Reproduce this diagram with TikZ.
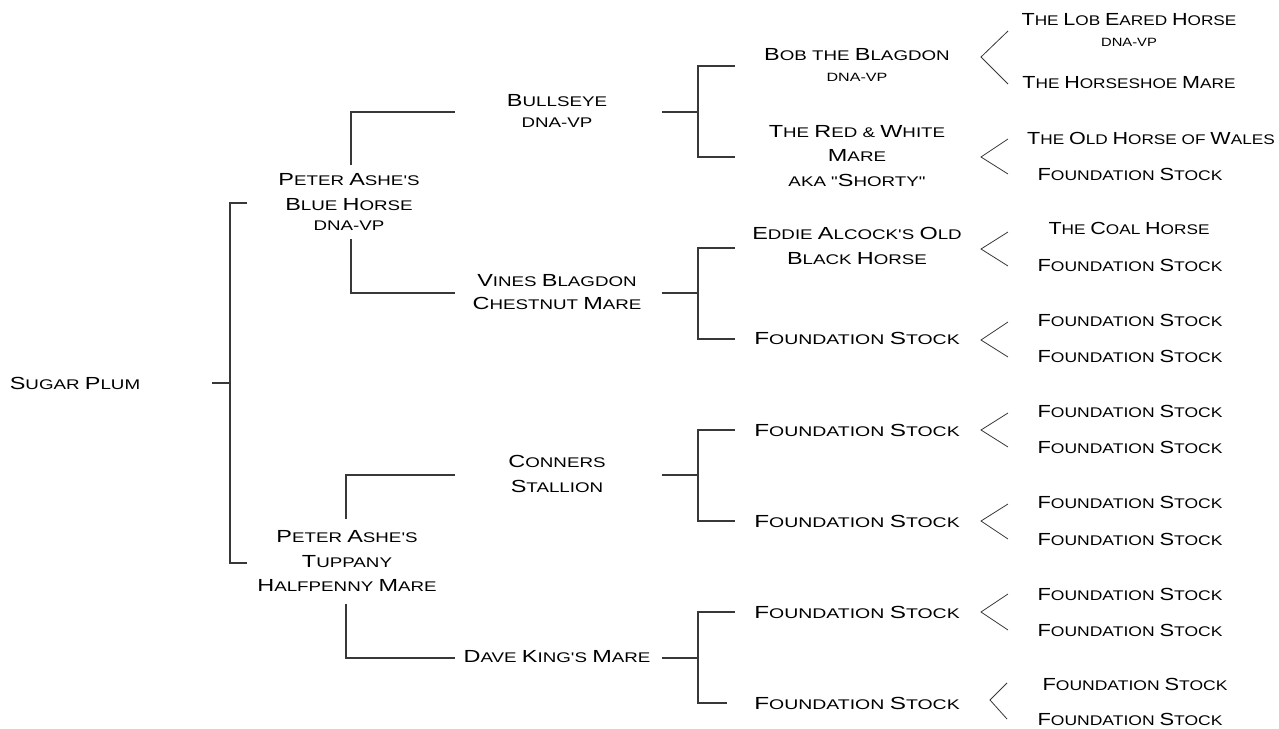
\documentclass[tikz,border=0pt]{standalone}
\usepackage{fontspec}
\newfontfamily\cpfont[FakeStretch=1.34]{Liberation Sans}
\newfontfamily\cpwide[FakeStretch=1.39]{Liberation Sans}
\newfontfamily\cpnarrow[FakeStretch=1.23]{Liberation Sans}
\newfontfamily\cpfour[FakeStretch=1.25]{Liberation Sans}
\newcommand\C[1]{{\fontsize{17.5pt}{25pt}\selectfont #1}}
\newcommand\Sm[1]{{\fontsize{12pt}{25pt}\selectfont #1}}
\begin{document}
\begin{tikzpicture}[x=1pt,y=-1pt,
  lbl/.style={font=\cpfont\fontsize{14pt}{24.5pt}\selectfont, align=center, inner sep=0pt, text=black},
  fs/.style={lbl, font=\cpwide\fontsize{14pt}{24.5pt}\selectfont},
  nw/.style={lbl, font=\cpnarrow\fontsize{14pt}{24.5pt}\selectfont},
  fsfour/.style={lbl, font=\cpfour\fontsize{14pt}{24.5pt}\selectfont},
  lk/.style={draw=black!78, line width=1.1pt},
  chev/.style={draw=black!78, line width=0.8pt}]
\useasboundingbox[fill=white] (0,0) rectangle (1279,728);

% generation 0
\node[lbl] (sp) at (75,383) {\C{S}UGAR \C{P}LUM};
% generation 1
\node[lbl] (pb) at (349,202) {\C{P}ETER \C{A}SHE'S\\\C{B}LUE \C{H}ORSE\\[-4pt]DNA-VP};
\node[lbl] (pt) at (347,561) {\C{P}ETER \C{A}SHE'S\\\C{T}UPPANY\\\C{H}ALFPENNY \C{M}ARE};
% generation 2
\node[lbl] (bu) at (557,111) {\C{B}ULLSEYE\\[-4pt]DNA-VP};
\node[lbl] (vb) at (557,292) {\C{V}INES \C{B}LAGDON\\[-2pt]\C{C}HESTNUT \C{M}ARE};
\node[lbl] (cs) at (557,474) {\C{C}ONNERS\\\C{S}TALLION};
\node[lbl] (dk) at (557,657) {\C{D}AVE \C{K}ING'S \C{M}ARE};
% generation 3
\node[lbl] (bb) at (857,65) {\C{B}OB THE \C{B}LAGDON\\[-3pt]\Sm{DNA-VP}};
\node[lbl] (rw) at (857,156) {\C{T}HE \C{R}ED \& \C{W}HITE\\\C{M}ARE\\AKA "\C{S}HORTY"};
\node[lbl] (ea) at (857,246) {\C{E}DDIE \C{A}LCOCK'S \C{O}LD\\\C{B}LACK \C{H}ORSE};
\node[fs] (f3a) at (857,338) {\C{F}OUNDATION \C{S}TOCK};
\node[fs] (f3b) at (857,430) {\C{F}OUNDATION \C{S}TOCK};
\node[fs] (f3c) at (857,521) {\C{F}OUNDATION \C{S}TOCK};
\node[fs] (f3d) at (857,612) {\C{F}OUNDATION \C{S}TOCK};
\node[fs] (f3e) at (857,703) {\C{F}OUNDATION \C{S}TOCK};
% generation 4
\node[nw] (g1) at (1129,30) {\C{T}HE \C{L}OB \C{E}ARED \C{H}ORSE\\[-3pt]\Sm{DNA-VP}};
\node[nw] (g2) at (1129,83) {\C{T}HE \C{H}ORSESHOE \C{M}ARE};
\node[nw] (g3) at (1151,138) {\C{T}HE \C{O}LD \C{H}ORSE OF \C{W}ALES};
\node[fsfour] (g4) at (1130,174) {\C{F}OUNDATION \C{S}TOCK};
\node[nw] (g5) at (1129,228) {\C{T}HE \C{C}OAL \C{H}ORSE};
\node[fsfour] (g6) at (1130,265) {\C{F}OUNDATION \C{S}TOCK};
\node[fsfour] (g7) at (1130,320) {\C{F}OUNDATION \C{S}TOCK};
\node[fsfour] (g8) at (1130,356) {\C{F}OUNDATION \C{S}TOCK};
\node[fsfour] (g9) at (1130,411) {\C{F}OUNDATION \C{S}TOCK};
\node[fsfour] (g10) at (1130,447) {\C{F}OUNDATION \C{S}TOCK};
\node[fsfour] (g11) at (1130,502) {\C{F}OUNDATION \C{S}TOCK};
\node[fsfour] (g12) at (1130,539) {\C{F}OUNDATION \C{S}TOCK};
\node[fsfour] (g13) at (1130,594) {\C{F}OUNDATION \C{S}TOCK};
\node[fsfour] (g14) at (1130,630) {\C{F}OUNDATION \C{S}TOCK};
\node[fsfour] (g15) at (1135,684) {\C{F}OUNDATION \C{S}TOCK};
\node[fsfour] (g16) at (1130,719) {\C{F}OUNDATION \C{S}TOCK};

% ---- connector end points
\coordinate (s0) at (212,383); \coordinate (j0) at (230,383);
\coordinate (e0a) at (247,203); \coordinate (e0b) at (247,563);

\coordinate (pb-t) at (351,165); \coordinate (pb-b) at (351,239);
\coordinate (e1a) at (455,112); \coordinate (e1b) at (455,293);
\coordinate (pt-t) at (346,519); \coordinate (pt-b) at (346,604);
\coordinate (e1c) at (455,475); \coordinate (e1d) at (455,658);

\coordinate (bu-s) at (662,112); \coordinate (bu-j) at (698,112);
\coordinate (vb-s) at (662,293); \coordinate (vb-j) at (698,293);
\coordinate (cs-s) at (662,475); \coordinate (cs-j) at (698,475);
\coordinate (dk-s) at (662,658); \coordinate (dk-j) at (698,658);
\coordinate (e2a) at (735,66);  \coordinate (e2b) at (735,157);
\coordinate (e2c) at (735,248); \coordinate (e2d) at (735,339);
\coordinate (e2e) at (735,430); \coordinate (e2f) at (735,521);
\coordinate (e2g) at (735,612); \coordinate (e2h) at (727,703);

% chevrons
\coordinate (c1a) at (1008,31);  \coordinate (c1) at (981,57);  \coordinate (c1b) at (1008,84);
\coordinate (c2a) at (1008,139); \coordinate (c2) at (981,157); \coordinate (c2b) at (1008,174);
\coordinate (c3a) at (1008,232); \coordinate (c3) at (981,249); \coordinate (c3b) at (1008,266);
\coordinate (c4a) at (1008,322); \coordinate (c4) at (981,340); \coordinate (c4b) at (1008,357);
\coordinate (c5a) at (1008,413); \coordinate (c5) at (981,430); \coordinate (c5b) at (1008,447);
\coordinate (c6a) at (1008,504); \coordinate (c6) at (981,521); \coordinate (c6b) at (1008,539);
\coordinate (c7a) at (1008,594); \coordinate (c7) at (981,612); \coordinate (c7b) at (1008,630);
\coordinate (c8a) at (1007,683); \coordinate (c8) at (990,700); \coordinate (c8b) at (1007,719);

% ---- connectors
\draw[lk] (s0) -- (j0);
\draw[lk] (e0a) -| (j0) |- (e0b);

\draw[lk] (pb-t) |- (e1a);
\draw[lk] (pb-b) |- (e1b);
\draw[lk] (pt-t) |- (e1c);
\draw[lk] (pt-b) |- (e1d);

\draw[lk] (bu-s) -- (bu-j);
\draw[lk] (e2a) -| (bu-j) |- (e2b);
\draw[lk] (vb-s) -- (vb-j);
\draw[lk] (e2c) -| (vb-j) |- (e2d);
\draw[lk] (cs-s) -- (cs-j);
\draw[lk] (e2e) -| (cs-j) |- (e2f);
\draw[lk] (dk-s) -- (dk-j);
\draw[lk] (e2g) -| (dk-j) |- (e2h);

\foreach \i in {1,...,8}{
  \draw[chev] (c\i a) -- (c\i) -- (c\i b);
}
\end{tikzpicture}
\end{document}
